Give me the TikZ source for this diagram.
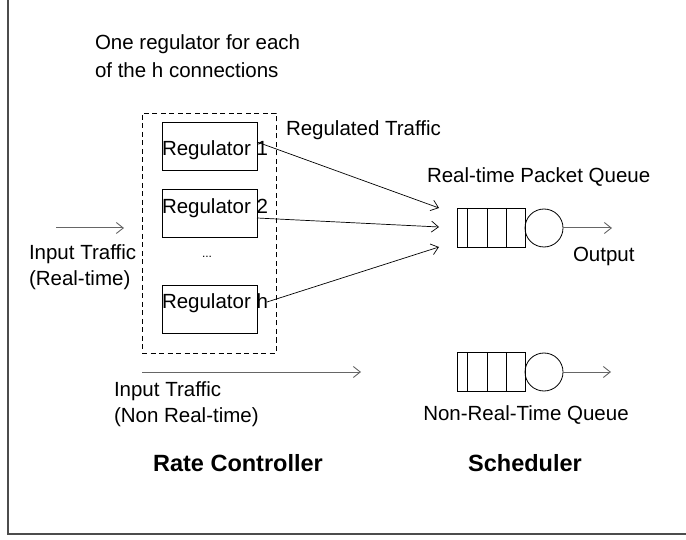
\documentclass[tikz,border=0pt]{standalone}
\usepackage{fontspec}
\setmainfont{Liberation Sans}
\usetikzlibrary{arrows.meta}
\begin{document}
\begin{tikzpicture}[x=1pt,y=-1pt,
  every node/.style={inner sep=0pt,outer sep=0pt},
  txt/.style={font=\fontsize{20.5}{24}\selectfont,text height=15pt,text depth=4pt},
  btxt/.style={font=\fontsize{23.5}{27}\selectfont\bfseries,text height=17pt,text depth=4pt},
  regbox/.style={draw=black,line width=0.8pt,minimum width=95pt,minimum height=48pt},
  qbox/.style={draw=black,line width=0.8pt,minimum width=68pt,minimum height=39pt},
  server/.style={circle,draw=black,line width=0.8pt,minimum size=38pt},
  arr/.style={line width=0.7pt,-{Straight Barb[length=7pt,width=11pt,line width=0.7pt]}},
  garr/.style={draw=black!60,line width=1pt,-{Straight Barb[length=7pt,width=11pt,line width=0.9pt]}},
  dashbox/.style={draw=black,line width=0.8pt,dash pattern=on 5pt off 3.5pt}
]
\useasboundingbox (0,0) rectangle (686,540);
% frame (left and bottom visible)
\draw[black!70,line width=1.5pt] (8,0) -- (8,534) -- (686,534);

% top note
\node[txt,anchor=west] (note1) at (95,44) {One regulator for each};
\node[txt,anchor=west] (note2) at (95,72) {of the h connections};

% rate controller dashed box
\node[dashbox,minimum width=134pt,minimum height=240pt] (rc) at (209,233) {};

% regulators
\node[regbox] (reg1) at (209.5,146) {};
\node[regbox] (reg2) at (209.5,213) {};
\node[regbox] (regh) at (209.5,309) {};
\node[txt,anchor=west] (reg1t) at (162,150) {Regulator 1};
\node[txt,anchor=west] (reg2t) at (162,208) {Regulator 2};
\node[txt,anchor=west] (reght) at (162,303) {Regulator h};
\node[font=\fontsize{12}{14}\selectfont] (dots) at (207,257) {...};

\node[txt,anchor=west] (regtraf) at (286,130) {Regulated Traffic};

% real-time queue
\node[qbox] (q1) at (491,227.5) {};
\foreach \xx in {467,487,506} \draw[line width=0.8pt] (\xx,208) -- (\xx,247);
\node[server] (s1) at (544,228) {};
\coordinate (out1) at (612,228);
\draw[garr] (s1.east) -- (out1);
\node[txt,anchor=west] (rtq) at (427,177) {Real-time Packet Queue};
\node[txt,anchor=west] (outt) at (573,256) {Output};

% arrows from regulators
\coordinate (e1) at (439,208);
\coordinate (e2) at (439,227);
\coordinate (e3) at (439,247);
\draw[arr] ([yshift=4pt]reg1.east) -- (e1);
\draw[arr] ([yshift=-5pt]reg2.east) -- (e2);
\draw[arr] ([xshift=10pt,yshift=7pt]regh.east) -- (e3);

% input real-time
\coordinate (in1a) at (56,228);
\coordinate (in1b) at (124,228);
\draw[garr] (in1a) -- (in1b);
\node[txt,anchor=west] (inrt1) at (29,254) {Input Traffic};
\node[txt,anchor=west] (inrt2) at (29,280) {(Real-time)};

% non real-time
\coordinate (in2a) at (142,372);
\coordinate (in2b) at (361,372);
\draw[garr] (in2a) -- (in2b);
\node[txt,anchor=west] (innrt1) at (114,391) {Input Traffic};
\node[txt,anchor=west] (innrt2) at (114,417) {(Non Real-time)};

\node[qbox] (q2) at (491,371.5) {};
\foreach \xx in {467,487,506} \draw[line width=0.8pt] (\xx,352) -- (\xx,391);
\node[server] (s2) at (544,372) {};
\coordinate (out2) at (611,372);
\draw[garr] (s2.east) -- (out2);
\node[txt] (nrtq) at (526,415) {Non-Real-Time Queue};

% labels
\node[btxt] (ratec) at (238,465) {Rate Controller};
\node[btxt] (sched) at (525,465) {Scheduler};
\end{tikzpicture}
\end{document}
